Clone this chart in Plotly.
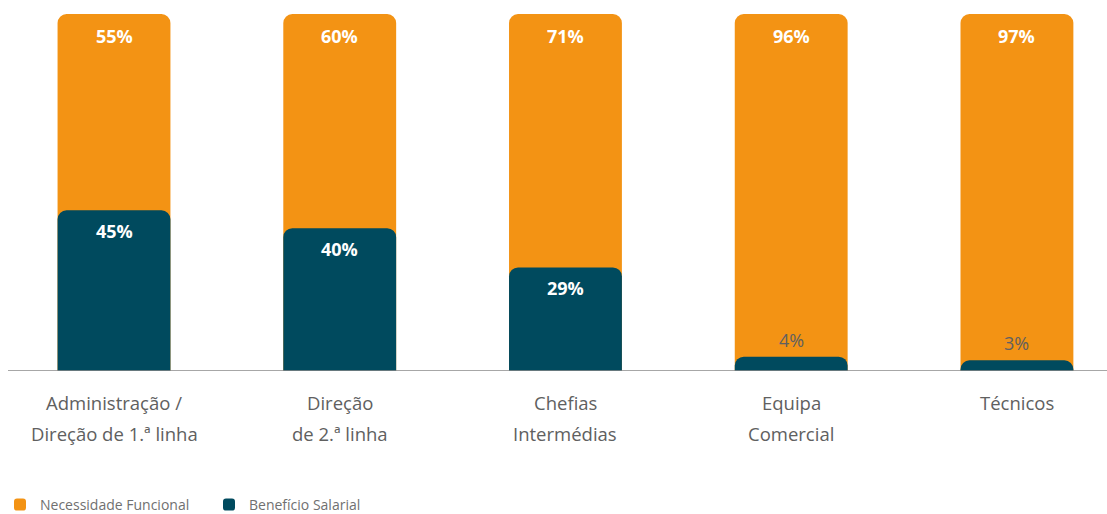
import plotly.graph_objects as go

# Categories (each split into its two display lines)
categories = ["Administração / Direção de 1.ª linha", "Direção de 2.ª linha",
              "Chefias Intermédias", "Equipa Comercial", "Técnicos"]
label_line1 = ["Administração /", "Direção", "Chefias", "Equipa", "Técnicos"]
label_line2 = ["Direção de 1.ª linha", "de 2.ª linha", "Intermédias", "Comercial", ""]

# Shares (%)
necessidade_funcional = [55, 60, 71, 96, 97]
beneficio_salarial = [45, 40, 29, 4, 3]

ORANGE = "#F39314"
TEAL = "#004A5E"
GREY_TEXT = "#606060"
FONT = "Open Sans"

totals = [b + n for b, n in zip(beneficio_salarial, necessidade_funcional)]

fig = go.Figure()

# Orange bar runs the whole column so it sits behind the rounded teal top
fig.add_trace(go.Bar(
    x=categories, y=totals, name="Necessidade Funcional",
    marker=dict(color=ORANGE, line=dict(width=0), cornerradius=9), width=0.5,
    hoverinfo="skip",
))
# Teal bar on an overlaid x axis so its own top corners are rounded too
fig.add_trace(go.Bar(
    x=categories, y=beneficio_salarial, name="Benefício Salarial",
    marker=dict(color=TEAL, line=dict(width=0), cornerradius=9), width=0.5,
    hoverinfo="skip", xaxis="x2",
))

annotations = []
for cat, tot, nec in zip(categories, totals, necessidade_funcional):
    annotations.append(dict(
        x=cat, y=tot, xref="x", yref="y", text=f"<b>{nec}%</b>",
        showarrow=False, yanchor="middle", yshift=-22,
        font=dict(family=FONT, size=18, color="white"),
    ))
for cat, ben in zip(categories, beneficio_salarial):
    if ben >= 10:
        annotations.append(dict(
            x=cat, y=ben, xref="x", yref="y", text=f"<b>{ben}%</b>",
            showarrow=False, yanchor="middle", yshift=-21,
            font=dict(family=FONT, size=18, color="white"),
        ))
    else:
        annotations.append(dict(
            x=cat, y=ben, xref="x", yref="y", text=f"{ben}%",
            showarrow=False, yanchor="middle", yshift=17,
            font=dict(family=FONT, size=18, color=GREY_TEXT),
        ))

# Category labels, one annotation per line
for cat, l1, l2 in zip(categories, label_line1, label_line2):
    annotations.append(dict(
        x=cat, y=-0.0896, xref="x", yref="paper", text=l1,
        showarrow=False, yanchor="middle",
        font=dict(family=FONT, size=18.5, color=GREY_TEXT),
    ))
    if l2:
        annotations.append(dict(
            x=cat, y=-0.1737, xref="x", yref="paper", text=l2,
            showarrow=False, yanchor="middle",
            font=dict(family=FONT, size=18.5, color=GREY_TEXT),
        ))

x_axis_style = dict(
    type="category", range=[-0.505, 4.399],
    showticklabels=False, showgrid=False, zeroline=False,
    showline=False, ticks="",
)

fig.update_layout(
    width=1107, height=514,
    margin=dict(l=0, r=0, t=14, b=143, autoexpand=False),
    paper_bgcolor="white", plot_bgcolor="white",
    barmode="overlay",
    showlegend=True,
    legend=dict(
        orientation="h", x=0.0, y=9 / 514, xanchor="left", yanchor="middle",
        xref="container", yref="container",
        font=dict(family=FONT, size=14, color="#707070"),
        itemwidth=30, traceorder="normal", entrywidth=164,
    ),
    xaxis=x_axis_style,
    xaxis2=dict(x_axis_style, overlaying="x"),
    yaxis=dict(
        range=[0, 100], visible=False, showgrid=False, zeroline=False,
    ),
    annotations=annotations,
    shapes=[dict(
        type="line", xref="paper", yref="y", x0=8 / 1107, x1=1, y0=0, y1=0,
        line=dict(color="#8a8a8a", width=1.5), layer="above",
    )],
)

fig.write_html("out.html")
